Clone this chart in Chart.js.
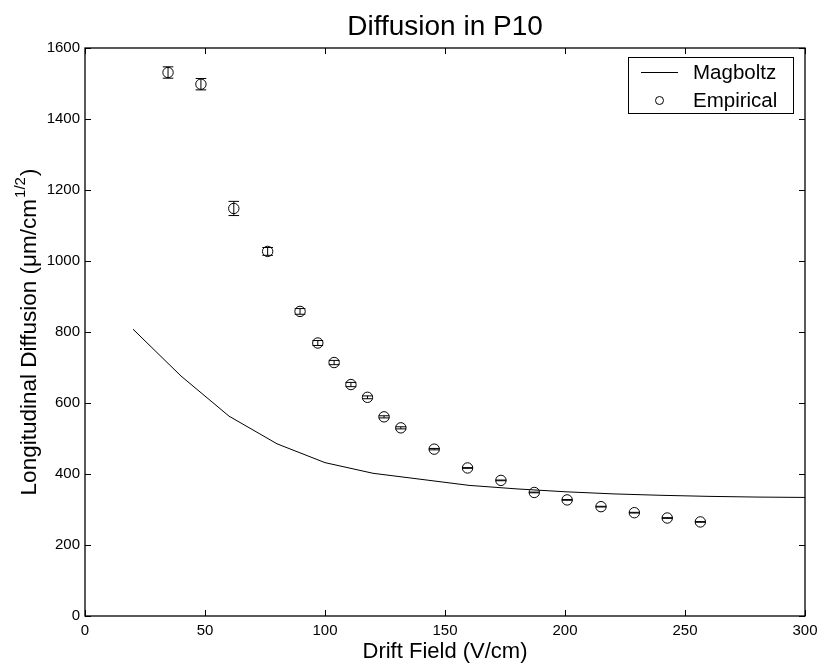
<!DOCTYPE html>
<html>
<head>
<meta charset="utf-8">
<script src="https://cdn.jsdelivr.net/npm/chart.js@4/dist/chart.umd.min.js"></script>
<style>
html,body{margin:0;padding:0;background:#fff;}
#c{display:block;}
</style>
</head>
<body>
<canvas id="c" width="820" height="671"></canvas>
<script>
// ---- data ----
const magboltzX = [20,40,60,80,100,120,140,160,180,200,220,240,260,280,300];
const magboltzY = [808,676,563,485,432,402,385,368,358,350,344,340,337,335,334];
const empiricalX = [34.6,48.3,62.0,76.1,89.6,97.0,103.8,110.8,117.7,124.6,131.6,145.5,159.4,173.3,187.2,200.9,215.0,228.9,242.6,256.4];
const empiricalY = [1531,1498,1148,1027,858,769,714,652,616,561,530,470,417,382,348,327,308,291,276,265];
const empiricalErr = [16,16,20,11,8,7,6,6,4,3,3,2,1,1,1,1,1,1,1,1];
const xTicks = [0,50,100,150,200,250,300];
const yTicks = [0,200,400,600,800,1000,1200,1400,1600];
const titleText = 'Diffusion in P10';
const xLabel = 'Drift Field (V/cm)';
const yLabelMain = 'Longitudinal Diffusion (\u03bcm/cm';
const yLabelSup = '1/2';
const yLabelEnd = ')';
const seriesNames = ['Magboltz','Empirical'];

const FONT = '"Liberation Sans", Arial, Helvetica, sans-serif';

const decor = {
  id: 'decor',
  afterDatasetsDraw(chart) {
    const ctx = chart.ctx;
    const xs = chart.scales.x, ys = chart.scales.y;
    const a = chart.chartArea;
    ctx.save();
    // error bars
    ctx.strokeStyle = '#000';
    ctx.lineWidth = 1;
    for (let i = 0; i < empiricalX.length; i++) {
      const px = xs.getPixelForValue(empiricalX[i]);
      const top = ys.getPixelForValue(empiricalY[i] + empiricalErr[i]);
      const bot = ys.getPixelForValue(empiricalY[i] - empiricalErr[i]);
      const cw = 5.3;
      ctx.beginPath();
      ctx.moveTo(px, top); ctx.lineTo(px, bot);
      ctx.moveTo(px - cw, top); ctx.lineTo(px + cw, top);
      ctx.moveTo(px - cw, bot); ctx.lineTo(px + cw, bot);
      ctx.stroke();
    }
    // frame
    ctx.lineWidth = 1.3;
    ctx.strokeRect(a.left, a.top, a.right - a.left, a.bottom - a.top);
    // inward ticks
    ctx.lineWidth = 1;
    const tl = 6;
    ctx.beginPath();
    xTicks.forEach(v => {
      const p = Math.round(xs.getPixelForValue(v)) + 0.5;
      ctx.moveTo(p, a.bottom); ctx.lineTo(p, a.bottom - tl);
      ctx.moveTo(p, a.top); ctx.lineTo(p, a.top + tl);
    });
    yTicks.forEach(v => {
      const p = Math.round(ys.getPixelForValue(v)) + 0.5;
      ctx.moveTo(a.left, p); ctx.lineTo(a.left + tl, p);
      ctx.moveTo(a.right, p); ctx.lineTo(a.right - tl, p);
    });
    ctx.stroke();

    // title
    ctx.fillStyle = '#000';
    ctx.textAlign = 'center';
    ctx.textBaseline = 'alphabetic';
    ctx.font = '28px ' + FONT;
    const cx = (a.left + a.right) / 2;
    ctx.fillText(titleText, cx, 35);
    // x label
    ctx.font = '22px ' + FONT;
    ctx.fillText(xLabel, cx, 658);
    // y label with superscript
    const cy = (a.top + a.bottom) / 2;
    ctx.save();
    ctx.translate(36, cy);
    ctx.rotate(-Math.PI / 2);
    ctx.textAlign = 'left';
    const mainFont = '22.5px ' + FONT, supFont = '15px ' + FONT;
    ctx.font = mainFont;
    const w1 = ctx.measureText(yLabelMain).width;
    const w3 = ctx.measureText(yLabelEnd).width;
    ctx.font = supFont;
    const w2 = ctx.measureText(yLabelSup).width;
    const total = w1 + w2 + w3 + 2;
    let x0 = -total / 2;
    ctx.font = mainFont;
    ctx.fillText(yLabelMain, x0, 0);
    ctx.font = supFont;
    ctx.fillText(yLabelSup, x0 + w1 + 1, -11);
    ctx.font = mainFont;
    ctx.fillText(yLabelEnd, x0 + w1 + w2 + 2, 0);
    ctx.restore();

    // legend
    const lx = 628, ly = 57, lw = 165, lh = 56;
    ctx.fillStyle = '#fff';
    ctx.fillRect(lx, ly, lw, lh);
    ctx.strokeStyle = '#000';
    ctx.lineWidth = 1;
    ctx.strokeRect(lx + 0.5, ly + 0.5, lw, lh);
    ctx.beginPath();
    ctx.moveTo(641, 72.5); ctx.lineTo(678, 72.5);
    ctx.stroke();
    ctx.beginPath();
    ctx.arc(659.5, 100.5, 4, 0, Math.PI * 2);
    ctx.stroke();
    ctx.fillStyle = '#000';
    ctx.textAlign = 'left';
    ctx.font = '20.5px ' + FONT;
    ctx.fillText(seriesNames[0], 693, 79);
    ctx.fillText(seriesNames[1], 693, 107);
    ctx.restore();
  }
};

new Chart(document.getElementById('c'), {
  type: 'scatter',
  data: {
    datasets: [
      {
        label: seriesNames[0],
        data: magboltzX.map((x, i) => ({x, y: magboltzY[i]})),
        showLine: true,
        borderColor: '#000',
        borderWidth: 1,
        pointRadius: 0,
        tension: 0,
        fill: false
      },
      {
        label: seriesNames[1],
        data: empiricalX.map((x, i) => ({x, y: empiricalY[i]})),
        showLine: false,
        pointStyle: 'circle',
        pointRadius: 5.2,
        borderColor: '#000',
        borderWidth: 1,
        backgroundColor: 'rgba(0,0,0,0)'
      }
    ]
  },
  options: {
    responsive: false,
    animation: false,
    layout: { padding: { left: 0, right: 15, top: 48, bottom: 0 } },
    plugins: { legend: { display: false }, title: { display: false }, tooltip: { enabled: false } },
    scales: {
      x: {
        type: 'linear', min: 0, max: 300,
        afterFit: s => { s.height = 55; s.paddingLeft = 0; s.paddingRight = 0; },
        afterBuildTicks: s => { s.ticks = xTicks.map(v => ({value: v})); },
        grid: { display: false, drawTicks: false },
        border: { display: false },
        ticks: { color: '#000', font: { size: 15, family: FONT }, padding: 6, maxRotation: 0,
                 callback: v => String(v) }
      },
      y: {
        type: 'linear', min: 0, max: 1600,
        afterFit: s => { s.width = 85; s.paddingTop = 0; s.paddingBottom = 0; },
        afterBuildTicks: s => { s.ticks = yTicks.map(v => ({value: v})); },
        grid: { display: false, drawTicks: false },
        border: { display: false },
        ticks: { color: '#000', font: { size: 15, family: FONT }, padding: 5,
                 callback: v => String(v) }
      }
    }
  },
  plugins: [decor]
});
</script>
</body>
</html>
